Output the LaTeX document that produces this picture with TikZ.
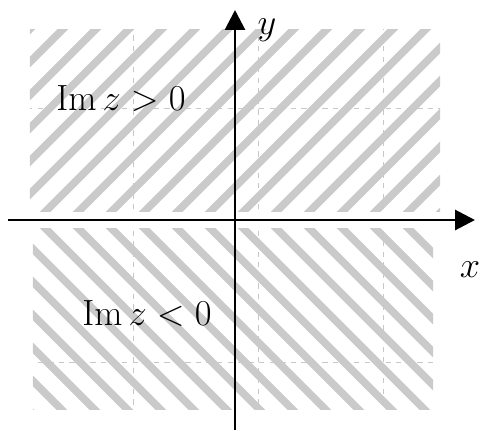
\documentclass[tikz,border=0pt]{standalone}
\usepackage{tikz}
\usetikzlibrary{arrows.meta}
\definecolor{hatchgray}{RGB}{202,202,202}
\definecolor{gridgray}{RGB}{200,200,200}

\begin{document}
\begin{tikzpicture}[font=\fontsize{21}{25}\selectfont]
        \useasboundingbox (-4.70,-4.20) rectangle (4.92,4.40);
        % upper half plane
        \begin{scope}
          \clip (-4.10,0.18) rectangle (4.10,3.80);
          \foreach \i in {-20,...,20}
            \draw[hatchgray,line width=1.5mm] (\i*0.66-4,-4) -- ++(8,8);
          \draw[gridgray,very thin,dashed] (-2.04,0) -- (-2.04,4) (0.46,0) -- (0.46,4)
            (2.96,0) -- (2.96,4) (-5,2.24) -- (5,2.24);
        \end{scope}
        % lower half plane
        \begin{scope}
          \clip (-4.04,-0.16) rectangle (3.96,-3.78);
          \foreach \i in {-20,...,20}
            \draw[hatchgray,line width=1.5mm] (\i*0.66-4,4) -- ++(8,-8);
          \draw[gridgray,very thin,dashed] (-2.04,0) -- (-2.04,-4) (0.46,0) -- (0.46,-4)
            (2.96,0) -- (2.96,-4) (-5,-2.84) -- (5,-2.84);
        \end{scope}
        % axes
        \coordinate (xl) at (-4.54,0);
        \coordinate (xr) at (4.80,0);
        \coordinate (yb) at (0,-4.20);
        \coordinate (yt) at (0,4.20);
        \draw[-{Triangle[length=4mm,width=4mm]},line width=1.7pt] (xl) -- (xr);
        \draw[-{Triangle[length=4mm,width=4mm]},line width=1.7pt] (yb) -- (yt);
        \node (xlab) at (4.70,-1.00) {$x$};
        \node (ylab) at (0.64,3.80) {$y$};
        \node (upper) at (-2.28,2.42) {$\mathrm{Im}\,z>0$};
        \node (lower) at (-1.76,-1.88) {$\mathrm{Im}\,z<0$};
      \end{tikzpicture}
\end{document}
